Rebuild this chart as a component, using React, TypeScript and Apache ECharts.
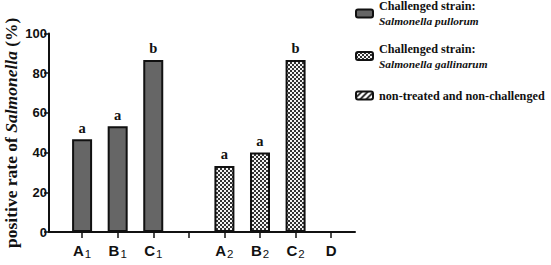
import React, { useEffect, useRef } from "react";
import * as echarts from "echarts";

const tickLabels = ["A|1", "B|1", "C|1", "", "A|2", "B|2", "C|2", "D|"];
const pullorumX = [0, 1, 2];
const pullorumValues = [46.7, 53.3, 86.7];
const pullorumLetters = ["a", "a", "b"];
const gallinarumX = [4, 5, 6];
const gallinarumValues = [33.3, 40, 86.7];
const gallinarumLetters = ["a", "a", "b"];
const seriesNames = ["pullorum", "gallinarum", "control"];
const yTicks = [0, 20, 40, 60, 80, 100];

function makeChecker(): HTMLCanvasElement {
  const c = document.createElement("canvas");
  c.width = 4;
  c.height = 4;
  const ctx = c.getContext("2d")!;
  ctx.fillStyle = "#f4f4f4";
  ctx.fillRect(0, 0, 4, 4);
  ctx.fillStyle = "#333";
  ctx.fillRect(0, 0, 2, 2);
  ctx.fillRect(2, 2, 2, 2);
  return c;
}

function makeHatch(): HTMLCanvasElement {
  const c = document.createElement("canvas");
  c.width = 6;
  c.height = 6;
  const ctx = c.getContext("2d")!;
  ctx.fillStyle = "#fff";
  ctx.fillRect(0, 0, 6, 6);
  ctx.strokeStyle = "#111";
  ctx.lineWidth = 1.6;
  ctx.beginPath();
  ctx.moveTo(-1, 7);
  ctx.lineTo(7, -1);
  ctx.moveTo(-4, 4);
  ctx.lineTo(4, -4);
  ctx.moveTo(2, 10);
  ctx.lineTo(10, 2);
  ctx.stroke();
  return c;
}

const SERIF = "'Liberation Serif', 'Times New Roman', serif";
const SANS = "'Liberation Sans', Arial, sans-serif";

const legendRich = {
  b: {
    fontFamily: SERIF,
    fontWeight: "bold",
    fontSize: 12.2,
    color: "#111",
    lineHeight: 15,
  },
  i: {
    fontFamily: SERIF,
    fontWeight: "bold",
    fontStyle: "italic",
    fontSize: 11.4,
    color: "#111",
    lineHeight: 15,
  },
};

function legendFor(name: string, top: number) {
  return {
    orient: "vertical",
    left: 355,
    top,
    padding: 0,
    itemWidth: 17,
    itemHeight: 8,
    itemGap: 0,
    icon: "roundRect",
    data: [name],
    formatter: (n: string) => {
      if (n === "pullorum") return "{b|Challenged strain:}\n{i|Salmonella pullorum}";
      if (n === "gallinarum") return "{b|Challenged strain:}\n{i|Salmonella gallinarum}";
      return "{b|non-treated and non-challenged}";
    },
    textStyle: { padding: [0, 0, 0, 1], rich: legendRich },
  };
}

export default function App() {
  const ref = useRef<HTMLDivElement>(null);
  useEffect(() => {
    document.body.style.margin = "0";
    const chart = echarts.init(ref.current!, null, { renderer: "svg" });
    const checker = makeChecker();
    const hatch = makeHatch();
    const labelStyle = {
      show: true,
      position: "top" as const,
      distance: 4,
      fontFamily: SERIF,
      fontWeight: "bold" as const,
      fontSize: 14.5,
      color: "#111",
    };
    const ticks = [0, 1, 2, 3, 4, 5, 6, 7];
    chart.setOption({
      animation: false,
      grid: {
        left: 49,
        top: 33.5,
        width: 306,
        height: 198.5,
        containLabel: false,
        outerBoundsMode: "none",
      },
      legend: [
        legendFor(seriesNames[0], 0),
        legendFor(seriesNames[1], 42.5),
        legendFor(seriesNames[2], 89.5),
      ],
      xAxis: {
        type: "value",
        min: -0.93,
        max: 7.67,
        splitLine: { show: false },
        axisLine: { show: true, onZero: false, lineStyle: { color: "#111", width: 2 } },
        axisTick: {
          show: true,
          length: 6,
          lineStyle: { color: "#111", width: 1.5 },
          customValues: ticks,
        },
        axisLabel: {
          customValues: ticks,
          margin: 11,
          formatter: (v: number) => {
            const t = tickLabels[Math.round(v)] || "";
            if (!t) return "";
            const [m, s] = t.split("|");
            return s ? `{m|${m}}{s|${s}}` : `{m|${m}}`;
          },
          rich: {
            m: {
              fontFamily: SANS,
              fontWeight: "bold",
              fontSize: 15,
              color: "#111",
              verticalAlign: "bottom",
            },
            s: {
              fontFamily: SANS,
              fontSize: 11.5,
              color: "#111",
              verticalAlign: "bottom",
              padding: [0, 0, -2, 1],
            },
          },
        },
      },
      yAxis: {
        type: "value",
        min: 0,
        max: 100,
        interval: 20,
        splitLine: { show: false },
        axisLine: { show: true, onZero: false, lineStyle: { color: "#111", width: 2 } },
        axisTick: { show: true, length: 5, lineStyle: { color: "#111", width: 1.5 } },
        axisLabel: {
          margin: 2,
          fontFamily: SANS,
          fontWeight: "bold",
          fontSize: 13,
          color: "#111",
          formatter: (v: number) => (yTicks.includes(v) ? String(v) : ""),
        },
        name: "{b|positive rate of }{i|Salmonella}{b| (%)}",
        nameLocation: "middle",
        nameRotate: 90,
        nameGap: 29,
        nameMoveOverlap: false,
        nameTextStyle: {
          rich: {
            b: { fontFamily: SERIF, fontWeight: "bold", fontSize: 17.5, color: "#111" },
            i: {
              fontFamily: SERIF,
              fontWeight: "bold",
              fontStyle: "italic",
              fontSize: 17.5,
              color: "#111",
            },
          },
        },
      },
      series: [
        {
          name: "pullorum",
          type: "bar",
          barWidth: 20,
          barGap: "-100%",
          data: pullorumX.map((x, i) => [x, pullorumValues[i]]),
          itemStyle: { color: "#666", borderColor: "#111", borderWidth: 2 },
          label: {
            ...labelStyle,
            formatter: (p: any) => pullorumLetters[p.dataIndex],
          },
        },
        {
          name: "gallinarum",
          type: "bar",
          barWidth: 20,
          barGap: "-100%",
          data: gallinarumX.map((x, i) => [x, gallinarumValues[i]]),
          itemStyle: {
            color: { image: checker, repeat: "repeat" },
            borderColor: "#111",
            borderWidth: 2,
          },
          label: {
            ...labelStyle,
            formatter: (p: any) => gallinarumLetters[p.dataIndex],
          },
        },
        {
          name: "control",
          type: "bar",
          barWidth: 20,
          barGap: "-100%",
          data: [],
          itemStyle: {
            color: { image: hatch, repeat: "repeat" },
            borderColor: "#111",
            borderWidth: 2,
          },
        },
      ],
    });
    return () => chart.dispose();
  }, []);
  return (
    <div
      ref={ref}
      style={{ position: "absolute", left: 0, top: 0, width: 551, height: 265 }}
    />
  );
}
